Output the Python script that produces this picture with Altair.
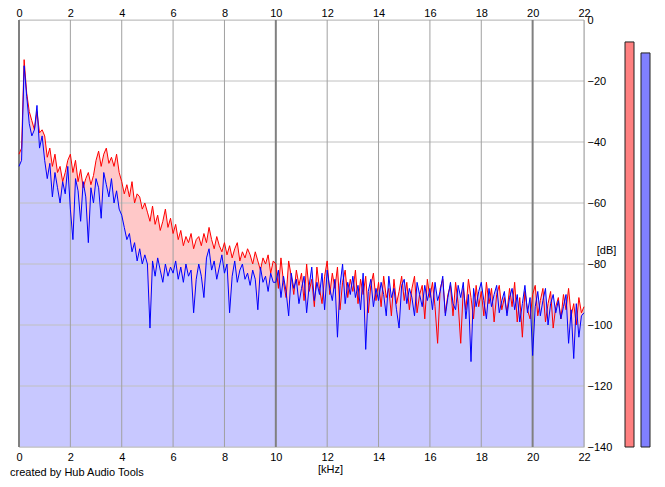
import altair as alt
import pandas as pd

# ---- data ----
freq_khz = [round(i * 0.1, 1) for i in range(221)]

left_db = [
    -44, -42, -13, -24, -30, -33, -36, -30, -37, -36,
    -38, -45, -42, -48, -44, -50, -48, -53, -50, -46,
    -44, -50, -46, -53, -49, -55, -52, -50, -54, -51,
    -46, -43, -48, -44, -42, -47, -45, -48, -44, -50,
    -53, -57, -54, -58, -53, -60, -57, -58, -62, -60,
    -63, -66, -61, -67, -64, -69, -66, -62, -68, -65,
    -70, -67, -72, -69, -74, -71, -73, -70, -75, -72,
    -71, -74, -70, -73, -68, -72, -75, -71, -74, -76,
    -73, -77, -74, -78, -75, -73, -79, -76, -78, -75,
    -77, -80, -76, -79, -82, -78, -80, -77, -83, -79,
    -80, -88, -78, -86, -91, -79, -84, -90, -82, -87,
    -83, -92, -80, -89, -85, -94, -81, -88, -93, -84,
    -79, -90, -83, -88, -81, -95, -86, -82, -91, -85,
    -89, -82, -93, -85, -90, -84, -96, -87, -83, -92,
    -86, -94, -84, -91, -88, -97, -85, -93, -89, -84,
    -92, -86, -95, -88, -84, -96, -90, -87, -98, -85,
    -91, -86, -94, -106, -88, -85, -96, -90, -87, -97,
    -86, -93, -106, -88, -95, -85, -91, -98, -87, -94,
    -89, -97, -86, -93, -88, -99, -90, -87, -95, -91,
    -96, -88, -94, -86, -99, -91, -104, -89, -95, -98,
    -90, -87, -97, -92, -88, -99, -93, -89, -101, -94,
    -91, -98, -90, -95, -88, -97, -93, -100, -91, -96,
    -94,
]

right_db = [
    -48, -46, -15, -25, -34, -38, -36, -28, -42, -38,
    -46, -52, -47, -58, -50, -55, -60, -53, -57, -48,
    -62, -72, -52, -56, -66, -53, -58, -73, -55, -60,
    -52, -55, -65, -50, -54, -58, -52, -60, -56, -62,
    -64, -68, -72, -70, -76, -73, -79, -75, -80, -77,
    -80, -101, -79, -84, -78, -82, -86, -80, -84, -81,
    -83, -79, -85, -81, -86, -80, -84, -82, -96, -85,
    -80, -84, -91, -78, -75, -82, -79, -85, -81, -77,
    -83, -80, -96, -84, -79, -86, -82, -80, -85, -83,
    -87, -82, -85, -95, -81, -86, -84, -89, -83, -86,
    -86, -82, -91, -84, -89, -97, -83, -88, -85, -93,
    -88, -84, -96, -87, -81, -92, -86, -90, -83, -95,
    -82, -88, -92, -85, -104, -87, -80, -93, -86, -90,
    -84, -91, -87, -95, -83, -108, -89, -85, -94, -88,
    -92, -86, -90, -97, -84, -91, -88, -95, -101, -87,
    -85, -93, -88, -91, -97, -86, -90, -94, -87, -92,
    -88, -95, -86, -92, -89, -84, -97, -91, -86, -93,
    -95, -87, -91, -86, -98, -90, -112, -88, -94, -89,
    -86, -92, -98, -88, -94, -90, -87, -96, -92, -89,
    -97, -91, -88, -95, -90, -99, -93, -87, -96, -91,
    -110, -94, -89, -97, -92, -88, -100, -93, -90, -96,
    -92, -98, -94, -90, -106, -95, -111, -93, -104, -97,
    -96,
]

x_ticks = [0, 2, 4, 6, 8, 10, 12, 14, 16, 18, 20, 22]
x_major = [0, 10, 20]
y_ticks = [0, -20, -40, -60, -80, -100, -120, -140]
meter_levels = [-7.2, -10.8]   # left (red), right (blue) peak meters
credit = ["created by Hub Audio Tools"]

FONT = "Liberation Sans"
W, H = 565, 427

df = pd.DataFrame({"f": freq_khz, "L": left_db, "R": right_db})
x_minor = [t for t in x_ticks if t not in x_major]

xs = alt.Scale(domain=[0, 22], nice=False, zero=False)
ys = alt.Scale(domain=[-140, 0], nice=False, zero=False)

def X(axis=None):
    return alt.X("f:Q", scale=xs, axis=axis)

base = alt.Chart(df)

area_l = base.mark_area(color="#ffc8c8", opacity=1).encode(
    x=X(), y=alt.Y("L:Q", scale=ys, axis=None), y2=alt.datum(-140))
area_r = base.mark_area(color="#c8c8ff", opacity=1).encode(
    x=X(), y=alt.Y("R:Q", scale=ys, axis=None), y2=alt.datum(-140))

hgrid = alt.Chart(pd.DataFrame({"v": y_ticks})).mark_rule(
    color="#c0c0c0", strokeWidth=1).encode(
    y=alt.Y("v:Q", scale=ys, axis=alt.Axis(
        orient="right", values=y_ticks, ticks=False, domain=False, grid=False,
        labelFont=FONT, labelFontSize=11, labelColor="#000", labelPadding=3,
        title="[dB]", titleFont=FONT, titleFontSize=11, titleFontWeight="normal",
        titleColor="#000", titleAngle=0, titleAlign="center", titleBaseline="middle",
        titleX=22, titleY=230)))
vminor = alt.Chart(pd.DataFrame({"f": x_minor})).mark_rule(
    color="#a0a0a0", strokeWidth=1).encode(
    x=X(alt.Axis(orient="top", values=x_ticks, ticks=False, domain=False, grid=False,
                 labelFont=FONT, labelFontSize=11, labelColor="#000",
                 labelPadding=2, title=None, labelFlush=False)))
vmajor = alt.Chart(pd.DataFrame({"f": x_major})).mark_rule(
    color="#808080", strokeWidth=2).encode(
    x=X(alt.Axis(orient="bottom", values=x_ticks, ticks=False, domain=False, grid=False,
                 labelFont=FONT, labelFontSize=11, labelColor="#000",
                 labelPadding=4, labelFlush=False,
                 title="[kHz]", titleFont=FONT, titleFontSize=11,
                 titleFontWeight="normal", titleColor="#000",
                 titleX=311, titleY=22, titleBaseline="middle")))

line_l = base.mark_line(color="#ff0000", strokeWidth=1).encode(
    x=X(), y=alt.Y("L:Q", scale=ys, axis=None))
line_r = base.mark_line(color="#0000ff", strokeWidth=1).encode(
    x=X(), y=alt.Y("R:Q", scale=ys, axis=None))

def meter(level, x0, color):
    shadow = alt.Chart(pd.DataFrame({"a": [0]})).mark_rect(
        color="#c8c4c4", xOffset=4, yOffset=4).encode(
        x=alt.value(x0), x2=alt.value(x0 + 9),
        y=alt.datum(level, scale=ys, axis=None), y2=alt.value(H))
    bar = alt.Chart(pd.DataFrame({"a": [0]})).mark_rect(
        color=color, stroke="#202020", strokeWidth=1).encode(
        x=alt.value(x0), x2=alt.value(x0 + 9),
        y=alt.datum(level, scale=ys, axis=None), y2=alt.value(H))
    return [shadow, bar]

meters = meter(meter_levels[0], 606, "#ff8080") + meter(meter_levels[1], 622, "#8080ff")

txt = alt.Chart(pd.DataFrame({"t": credit})).mark_text(
    align="left", baseline="middle", font=FONT, fontSize=11, color="#000").encode(
    text="t:N", x=alt.value(-9), y=alt.value(H + 26))

chart = alt.layer(area_l, area_r, hgrid, vminor, vmajor, line_l, line_r, *meters, txt
).resolve_axis(x="independent", y="independent").properties(
    width=W, height=H,
    autosize=alt.AutoSizeParams(type="none"),
    padding={"left": 11, "top": 12, "right": 72, "bottom": 32},
).configure_view(strokeWidth=0).configure(background="#ffffff")

chart.save("out.html", embed_options={"renderer": "svg", "actions": False})
